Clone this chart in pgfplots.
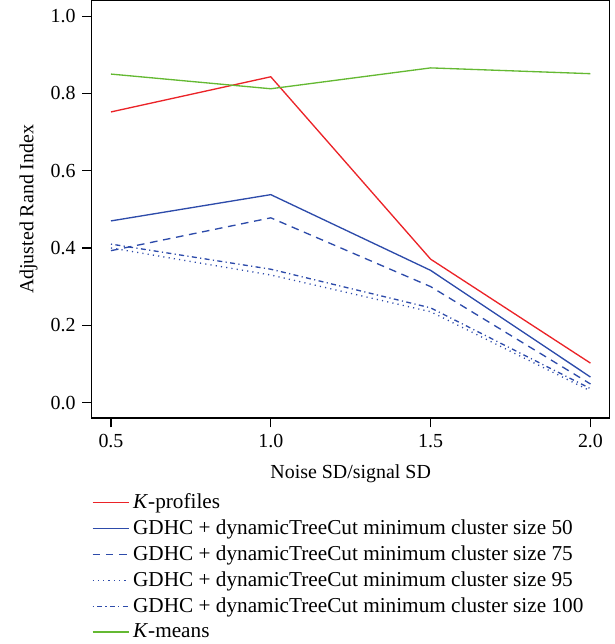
\documentclass[border=0pt]{standalone}
\usepackage{fontspec}
\setmainfont{Liberation Serif}
\usepackage{pgfplots}
\pgfplotsset{compat=1.18}
\definecolor{kred}{RGB}{235,35,40}
\definecolor{gblue}{RGB}{45,75,170}
\definecolor{kgreen}{RGB}{100,185,50}
\begin{document}
\begin{tikzpicture}
\begin{axis}[
  scale only axis,
  width=273pt, height=220pt,
  xmin=0.44, xmax=2.06, ymin=-0.04, ymax=1.04,
  xtick={0.5,1,1.5,2}, ytick={0,0.2,0.4,0.6,0.8,1},
  xticklabel style={/pgf/number format/.cd,fixed,fixed zerofill,precision=1},
  yticklabel style={/pgf/number format/.cd,fixed,fixed zerofill,precision=1},
  /pgf/number format/assume math mode=true,
  tick pos=left, tick align=outside,
  major tick length=5pt,
  tick style={black,line width=0.6pt},
  axis line style={line width=0.7pt},
  font=\fontsize{10.5pt}{12pt}\selectfont,
  xlabel={Noise SD/signal SD}, ylabel={Adjusted Rand Index},
  xlabel style={yshift=-2pt},
  legend style={at={(rel axis cs:0,-0.172)},anchor=north west,draw=none,fill=none,
    inner sep=0pt,outer sep=0pt,row sep=0.4pt,font=\fontsize{11.2pt}{13pt}\selectfont},
  legend cell align=left,
  legend image code/.code={\draw[mark=none,line width=0.8pt,#1] (0pt,0pt) -- (19pt,0pt);},
]
\addplot[color=kred,line width=0.7pt] coordinates {(0.5,0.752)(1.0,0.843)(1.5,0.371)(2.0,0.102)};
\addplot[color=gblue,line width=0.7pt] coordinates {(0.5,0.470)(1.0,0.538)(1.5,0.342)(2.0,0.066)};
\addplot[color=gblue,line width=0.7pt,dash pattern=on 4pt off 3pt] coordinates {(0.5,0.393)(1.0,0.478)(1.5,0.300)(2.0,0.048)};
\addplot[color=gblue,line width=0.7pt,dash pattern=on 0.6pt off 2.2pt] coordinates {(0.5,0.400)(1.0,0.330)(1.5,0.235)(2.0,0.030)};
\addplot[color=gblue,line width=0.7pt,dash pattern=on 0.6pt off 1.8pt on 2.6pt off 1.8pt] coordinates {(0.5,0.410)(1.0,0.345)(1.5,0.245)(2.0,0.036)};
\addplot[color=kgreen,line width=0.7pt] coordinates {(0.5,0.850)(1.0,0.812)(1.5,0.866)(2.0,0.851)};
\legend{\textit{K}-profiles,
  GDHC + dynamicTreeCut minimum cluster size 50,
  GDHC + dynamicTreeCut minimum cluster size 75,
  GDHC + dynamicTreeCut minimum cluster size 95,
  GDHC + dynamicTreeCut minimum cluster size 100,
  \textit{K}-means}
\end{axis}
\path ([xshift=-7pt]current bounding box.west);
\path ([xshift=2pt]current bounding box.east);
\end{tikzpicture}
\end{document}
